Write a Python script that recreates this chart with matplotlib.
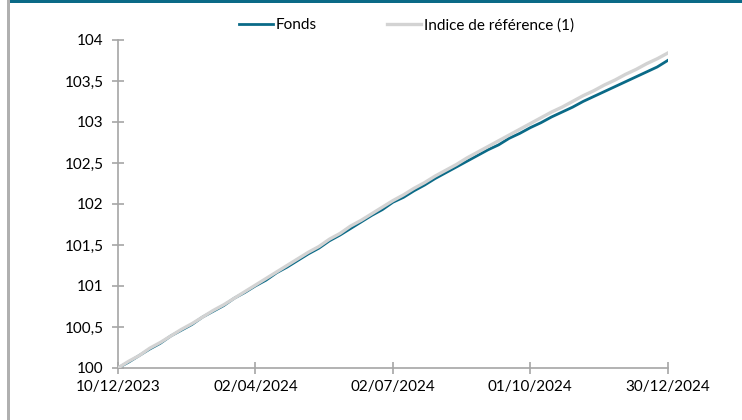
import numpy as np
import matplotlib
matplotlib.use("Agg")
from matplotlib import pyplot as plt
from matplotlib.patches import Rectangle

# weekly values, base 100
fonds = [100.00, 100.07, 100.15, 100.23, 100.30, 100.39, 100.46, 100.53, 100.62, 100.69,
         100.76, 100.85, 100.92, 101.00, 101.07, 101.16, 101.23, 101.31, 101.39, 101.46,
         101.55, 101.62, 101.70, 101.78, 101.86, 101.93, 102.02, 102.08, 102.16, 102.23,
         102.31, 102.38, 102.45, 102.52, 102.59, 102.66, 102.72, 102.80, 102.86, 102.93,
         102.99, 103.06, 103.12, 103.18, 103.25, 103.31, 103.37, 103.43, 103.49, 103.55,
         103.61, 103.67, 103.75]
indice = [100.00, 100.08, 100.15, 100.24, 100.31, 100.39, 100.47, 100.54, 100.62, 100.70,
          100.77, 100.85, 100.93, 101.01, 101.09, 101.17, 101.25, 101.33, 101.41, 101.48,
          101.57, 101.64, 101.73, 101.80, 101.88, 101.96, 102.04, 102.11, 102.19, 102.26,
          102.34, 102.41, 102.48, 102.56, 102.63, 102.70, 102.77, 102.84, 102.91, 102.98,
          103.05, 103.12, 103.18, 103.25, 103.32, 103.38, 103.45, 103.51, 103.58, 103.64,
          103.71, 103.77, 103.84]
date_labels = ["10/12/2023", "02/04/2024", "02/07/2024", "01/10/2024", "30/12/2024"]
y_ticks = [100, 100.5, 101, 101.5, 102, 102.5, 103, 103.5, 104]

plt.rcParams['font.family'] = ['Lato', 'DejaVu Sans']

fig = plt.figure(figsize=(7.42, 4.2), dpi=100)
ax = fig.add_axes([0.159, 0.124, 0.741, 0.781])

x = np.arange(len(fonds))
ax.plot(x, fonds, color="#0a6a87", lw=2.0, label="Fonds", zorder=2)
ax.plot(x, indice, color="#d3d3d3", lw=2.4, label="Indice de référence (1)", zorder=3)

ax.set_xlim(0, len(fonds) - 1)
ax.set_ylim(100, 104)
ax.set_xticks(np.linspace(0, len(fonds) - 1, len(date_labels)))
ax.set_xticklabels(date_labels)
ax.set_yticks(y_ticks)
ax.set_yticklabels([("%g" % v).replace(".", ",") for v in y_ticks])

for s in ["top", "right"]:
    ax.spines[s].set_visible(False)
for s in ["left", "bottom"]:
    ax.spines[s].set_color("#a6a6a6")
    ax.spines[s].set_linewidth(1.2)
ax.tick_params(direction="inout", length=9, width=1.2, color="#a6a6a6",
               labelsize=11, labelcolor="#000000")
ax.tick_params(axis="x", pad=4)
ax.tick_params(axis="y", pad=6)

fig.legend(loc="center", bbox_to_anchor=(0.548, 0.94), ncol=2, frameon=False,
           fontsize=11, handlelength=2.2, handletextpad=0.2, columnspacing=4.6)

# frame decorations
fig.add_artist(Rectangle((0.011, 0.993), 0.989, 0.007, transform=fig.transFigure,
                         color="#0a6a87", lw=0))
fig.add_artist(Rectangle((0.010, 0.0), 0.003, 1.0, transform=fig.transFigure,
                         color="#b0b0b0", lw=0))

fig.savefig("out.png", dpi=100)
